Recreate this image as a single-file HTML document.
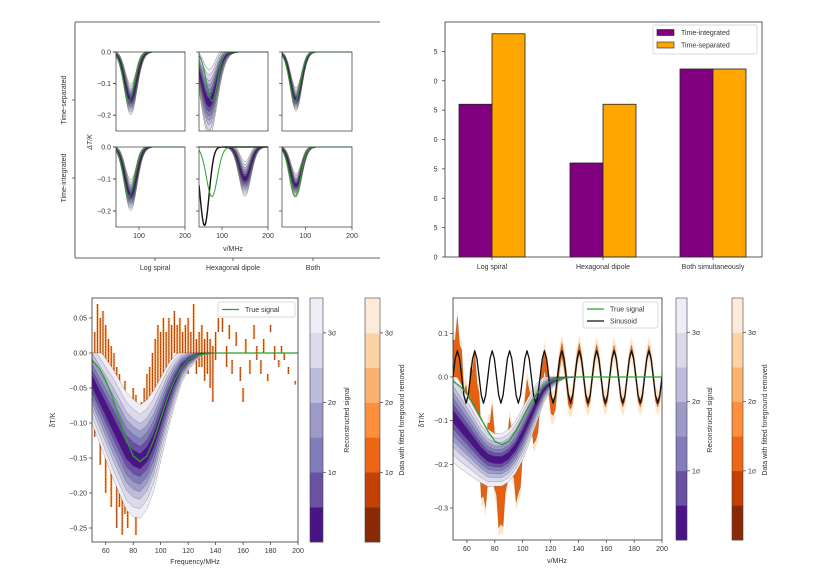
<!DOCTYPE html>
<html><head><meta charset="utf-8">
<style>
html,body{margin:0;padding:0;background:#fff;}
svg{display:block;font-family:"Liberation Sans",sans-serif;}
</style></head>
<body>
<svg id="fig" width="823" height="582" viewBox="0 0 823 582" xmlns="http://www.w3.org/2000/svg">
<defs>
<clipPath id="cpBL"><rect x="92" y="298" width="206" height="244"/></clipPath>
<clipPath id="cpBR"><rect x="453" y="298" width="209" height="242"/></clipPath>
</defs>
<g id="root"></g>
</svg>
<script>
// ---------- data ----------
const fGrid=[50,55,60,65,70,75,80,85,90,95,100,105,110,115,120,125,130,135,140,145,150,155,160,165,170,175,180,185,190,195,200];
const trueSig=[-0.010,-0.021,-0.039,-0.064,-0.094,-0.124,-0.147,-0.155,-0.147,-0.124,-0.094,-0.064,-0.039,-0.021,-0.010,-0.004,-0.002,-0.001,0,0,0,0,0,0,0,0,0,0,0,0,0];
const recMeanA=[-0.04,-0.06,-0.08,-0.10,-0.12,-0.14,-0.15,-0.155,-0.145,-0.125,-0.095,-0.065,-0.04,-0.02,-0.01,-0.004,0,0,0,0,0,0,0,0,0,0,0,0,0,0,0];
const recSigA=[0.02,0.022,0.024,0.026,0.027,0.028,0.028,0.027,0.026,0.024,0.02,0.016,0.012,0.008,0.005,0.003,0.001,0,0,0,0,0,0,0,0,0,0,0,0,0,0];
const recMeanB=[-0.09,-0.11,-0.13,-0.15,-0.17,-0.185,-0.19,-0.19,-0.18,-0.16,-0.13,-0.095,-0.06,-0.03,-0.012,-0.004,-0.001,0,0,0,0,0,0,0,0,0,0,0,0,0,0];
const recSigB=[0.035,0.033,0.03,0.027,0.024,0.022,0.02,0.02,0.02,0.02,0.02,0.018,0.015,0.01,0.006,0.003,0.001,0,0,0,0,0,0,0,0,0,0,0,0,0,0];
const spikeF=[52,54,56,58,60,62,64,66,68,70,72,74,76,78,80,82,84,86,88,90,92,94,96,98,100,102,104,106,108,110,112,114,116,118,120,122,124,126,128,130,132,134,136,138,140,142,145,148,150,152,155,158,160,162,165,168,170,173,175,178,180,183,186,188,190,193,198];
const spikeHi=[0.03,0.07,0.05,0.06,0.04,0.02,0.01,0.0,-0.02,-0.03,-0.05,-0.04,-0.06,-0.07,-0.05,-0.06,-0.08,-0.07,-0.05,-0.03,-0.02,0.0,0.02,0.04,0.03,0.05,0.03,0.05,0.04,0.06,0.04,0.05,0.03,0.04,0.05,0.03,0.07,0.02,0.03,0.04,0.02,0.03,0.02,0.01,0.03,0.05,0.05,0.01,0.04,-0.01,0.03,-0.02,-0.05,0.02,-0.01,0.04,0.01,-0.01,0.02,-0.03,0.04,0.01,-0.01,0.01,0.0,-0.02,-0.04];
const spikeLo=[-0.12,-0.05,-0.16,-0.10,-0.20,-0.15,-0.22,-0.18,-0.25,-0.22,-0.26,-0.23,-0.25,-0.22,-0.20,-0.26,-0.23,-0.20,-0.18,-0.16,-0.14,-0.12,-0.10,-0.08,-0.05,-0.06,-0.03,-0.02,-0.03,0.0,-0.02,-0.01,-0.03,-0.02,-0.03,-0.02,0.0,-0.03,-0.02,-0.02,-0.04,-0.03,-0.05,-0.07,-0.01,0.03,0.03,-0.02,0.02,-0.03,0.01,-0.04,-0.07,0.0,-0.03,0.02,-0.01,-0.03,0.0,-0.04,0.03,-0.01,-0.02,0.0,-0.01,-0.03,-0.045];
const sinF0=50, sinStep=1.5625;
const sinusoid=[0,0.042,0.06,0.042,0,-0.042,-0.06,-0.042,
0,0.042,0.06,0.042,0,-0.042,-0.06,-0.042,
0,0.042,0.06,0.042,0,-0.042,-0.06,-0.042,
0,0.042,0.06,0.042,0,-0.042,-0.06,-0.042,
0,0.042,0.06,0.042,0,-0.042,-0.06,-0.042,
0,0.042,0.06,0.042,0,-0.042,-0.06,-0.042,
0,0.042,0.06,0.042,0,-0.042,-0.06,-0.042,
0,0.042,0.06,0.042,0,-0.042,-0.06,-0.042,
0,0.042,0.06,0.042,0,-0.042,-0.06,-0.042,
0,0.042,0.06,0.042,0,-0.042,-0.06,-0.042,
0,0.042,0.06,0.042,0,-0.042,-0.06,-0.042,
0,0.042,0.06,0.042,0,-0.042,-0.06,-0.042,0];
const noiseB=[0.1,0.1,0.1,0.1,0.09,0.08,0.08,0.07,0.06,0.06,0.05,0.04,0.03,0.03,0.025,0.02,0.02,0.015,0.015,0.012,0.012,0.012,0.01,0.01,0.01,0.01,0.01,0.01,0.01,0.01,0.01];
const barCats=["Log spiral","Hexagonal dipole","Both simultaneously"];
const barIntegrated=[26,16,32];
const barSeparated=[38,26,32];
const barTicks=[0,5,10,15,20,25,30,35];
// small panels
const panelCenter=[[82,72,80],[82,150,80]];
const panelDepth=[[0.15,0.16,0.15],[0.15,0.10,0.12]];
const panelWidth=[[13,16,12],[13,12,12]];
const panelSpread=[[0.016,0.035,0.012],[0.016,0.018,0.012]];
const smallTrue=[78,0.155,12];
const hexBlack=[62,0.245,10];
const bandK=[3,2.5,2,1.6,1.2,0.8,0.4];
const purples=['#efedf5','#dadaeb','#bcbddc','#9e9ac8','#807dba','#6a51a3','#4a1486'];
const oranges=['#8a2a04','#c44103','#ec6615','#fd8f3d','#fdb170','#fdd3a6','#feeadb'];

// ---------- helpers ----------
const NS="http://www.w3.org/2000/svg";
const root=document.getElementById('root');
function el(tag,attrs,parent){const e=document.createElementNS(NS,tag);for(const k in attrs)e.setAttribute(k,attrs[k]);(parent||root).appendChild(e);return e;}
function txt(s,attrs,parent){const e=el('text',attrs,parent);e.textContent=s;return e;}
function lin(d0,d1,r0,r1){return v=>r0+(v-d0)/(d1-d0)*(r1-r0);}
function interp(xs,ys,x){if(x<=xs[0])return ys[0];for(let i=1;i<xs.length;i++){if(x<=xs[i]){const t=(x-xs[i-1])/(xs[i]-xs[i-1]);return ys[i-1]+t*(ys[i]-ys[i-1]);}}return ys[ys.length-1];}
function pathFrom(xs,ys,sx,sy){return xs.map((x,i)=>(i?'L':'M')+sx(x).toFixed(2)+','+sy(ys[i]).toFixed(2)).join('');}
function bandPath(xs,lo,hi,sx,sy){let d=pathFrom(xs,hi,sx,sy);for(let i=xs.length-1;i>=0;i--)d+='L'+sx(xs[i]).toFixed(2)+','+sy(lo[i]).toFixed(2);return d+'Z';}
function fine(a,b,n){const r=[];for(let i=0;i<=n;i++)r.push(a+(b-a)*i/n);return r;}

function drawBands(g,xs,mean,sig,sx,sy,name){
  bandK.forEach((k,j)=>{
    const lo=xs.map(x=>Math.min(0,interp(fGrid,mean,x)-k*interp(fGrid,sig,x)));
    const hi=xs.map(x=>Math.min(0,interp(fGrid,mean,x)+k*interp(fGrid,sig,x)));
    const p=el('path',{d:bandPath(xs,lo,hi,sx,sy),fill:purples[j],stroke:'#222','stroke-width':0.35,'stroke-opacity':0.55},g);
    
    
  });
}
function yTicks(g,vals,labels,sy,x0){vals.forEach((v,i)=>{el('line',{x1:x0-3,x2:x0,y1:sy(v),y2:sy(v),stroke:'#333','stroke-width':0.7},g);txt(labels[i],{x:x0-5,y:sy(v)+2.5,'font-size':7,'text-anchor':'end',fill:'#333'},g);});}
function xTicks(g,vals,sx,y0,show){vals.forEach(v=>{el('line',{x1:sx(v),x2:sx(v),y1:y0,y2:y0+3,stroke:'#333','stroke-width':0.7},g);if(show!==false)txt(String(v),{x:sx(v),y:y0+11,'font-size':7,'text-anchor':'middle',fill:'#333'},g);});}
function colorbar(x,y0,y1,w,cols,name){
  const g=el('g',{});  
  const h=(y1-y0)/7;
  for(let i=0;i<7;i++){el('rect',{x:x,y:y1-(i+1)*h,width:w,height:h+0.3,fill:cols[i]},g);}
  el('rect',{x:x,y:y0,width:w,height:y1-y0,fill:'none',stroke:'#444','stroke-width':0.6},g);
  [['1σ',2],['2σ',4],['3σ',6]].forEach(([l,k])=>{const yy=y1-k*h;el('line',{x1:x+w,x2:x+w+3,y1:yy,y2:yy,stroke:'#333','stroke-width':0.7},g);txt(l,{x:x+w+5,y:yy+2.5,'font-size':7,fill:'#333'},g);});
  return g;
}
function vlabel(s,x,y,name,italic){const t=txt(s,{x:x,y:y,'font-size':7,'text-anchor':'middle',fill:'#333',transform:'rotate(-90 '+x+' '+y+')','font-style':italic?'italic':'normal'});return t;}

// ---------- top-left grid ----------
(function(){
  const g=el('g',{});  
  el('line',{x1:75,y1:22,x2:75,y2:258,stroke:'#333','stroke-width':0.8},g);
  el('line',{x1:75,y1:22,x2:380,y2:22,stroke:'#333','stroke-width':0.8},g);
  el('line',{x1:75,y1:258,x2:380,y2:258,stroke:'#333','stroke-width':0.8},g);
  [100,178].forEach(y=>el('line',{x1:72,x2:75,y1:y,y2:y,stroke:'#333','stroke-width':0.7},g));
  [155,233,313].forEach(x=>el('line',{x1:x,x2:x,y1:258,y2:261,stroke:'#333','stroke-width':0.7},g));
  vlabel('Time-separated',66,100,'row-label-separated');
  vlabel('Time-integrated',66,178,'row-label-integrated');
  vlabel('ΔT/K',92,142,'small-y-axis-title',true);
  const xl=txt('ν/MHz',{x:233,y:251,'font-size':7,'text-anchor':'middle',fill:'#333'},g);
  ['Log spiral','Hexagonal dipole','Both'].forEach((s,i)=>{const t=txt(s,{x:[155,233,313][i],y:270,'font-size':7,'text-anchor':'middle',fill:'#333'},g);});
  const cols=[[116,185],[199,268],[282,352]], rows=[[52,131],[147,227]];
  const xs=fine(50,200,120);
  for(let r=0;r<2;r++)for(let c=0;c<3;c++){
    const [x0,x1]=cols[c],[y0,y1]=rows[r];
    const sx=lin(50,200,x0,x1), sy=lin(0,-0.25,y0,y1);
    const pg=el('g',{},g);  
    const cp=el('clipPath',{id:'cp'+r+c},pg); el('rect',{x:x0,y:y0-1,width:x1-x0,height:y1-y0+1},cp);
    const inner=el('g',{'clip-path':'url(#cp'+r+c+')'},pg);
    const C=panelCenter[r][c],D=panelDepth[r][c],W=panelWidth[r][c],S=panelSpread[r][c];
    bandK.forEach((k,j)=>{
      const lo=xs.map(x=>Math.min(0,-D*Math.exp(-((x-C)**2)/(2*W*W))-k*S*Math.exp(-((x-C)**2)/(2*(W*1.3)**2))));
      const hi=xs.map(x=>Math.min(0,-D*Math.exp(-((x-C)**2)/(2*W*W))+k*S*Math.exp(-((x-C)**2)/(2*(W*1.3)**2))));
      el('path',{d:bandPath(xs,lo,hi,sx,sy),fill:purples[j],stroke:'#222','stroke-width':0.4,'stroke-opacity':0.7},inner);
    });
    if(r===1&&c===1){
      const by=xs.map(x=>-hexBlack[1]*Math.exp(-((x-hexBlack[0])**2)/(2*hexBlack[2]**2)));
      el('path',{d:pathFrom(xs,by,sx,sy),fill:'none',stroke:'#111','stroke-width':1.4},inner);
    }
    const ty=xs.map(x=>-smallTrue[1]*Math.exp(-((x-smallTrue[0])**2)/(2*smallTrue[2]**2)));
    const tp=el('path',{d:pathFrom(xs,ty,sx,sy),fill:'none',stroke:'#2ca02c','stroke-width':1},inner);
     
    el('rect',{x:x0,y:y0,width:x1-x0,height:y1-y0,fill:'none',stroke:'#333','stroke-width':0.7},pg);
    [0,-0.1,-0.2].forEach(v=>el('line',{x1:x0-3,x2:x0,y1:sy(v),y2:sy(v),stroke:'#333','stroke-width':0.7},pg));
    if(c===0)yTicks(pg,[0,-0.1,-0.2],['0.0','−0.1','−0.2'],sy,x0);
    if(r===1)xTicks(pg,[100,200],sx,y1);
  }
})();

// ---------- top-right bar chart ----------
(function(){
  const g=el('g',{});  
  const X0=445,X1=762,Y0=22,Y1=257;
  const sy=lin(0,40,Y1,Y0);
  const centers=[492,603,713], bw=33;
  barCats.forEach((cat,i)=>{
    const r1=el('rect',{x:centers[i]-bw,y:sy(barIntegrated[i]),width:bw,height:Y1-sy(barIntegrated[i]),fill:'#800080',stroke:'#222','stroke-width':0.8},g);
     
    const r2=el('rect',{x:centers[i],y:sy(barSeparated[i]),width:bw,height:Y1-sy(barSeparated[i]),fill:'#ffa500',stroke:'#222','stroke-width':0.8},g);
     
    el('line',{x1:centers[i],x2:centers[i],y1:Y1,y2:Y1+3,stroke:'#333','stroke-width':0.7},g);
    const t=txt(cat,{x:centers[i],y:Y1+12,'font-size':7,'text-anchor':'middle',fill:'#333'},g);
     
  });
  el('rect',{x:X0,y:Y0,width:X1-X0,height:Y1-Y0,fill:'none',stroke:'#333','stroke-width':0.8},g);
  // labels are cut off at the figure edge in the original: only the last digit shows
  barTicks.forEach(v=>{el('line',{x1:X0-3,x2:X0,y1:sy(v),y2:sy(v),stroke:'#333','stroke-width':0.7},g);txt(String(v).slice(-1),{x:X0-7.5,y:sy(v)+2.5,'font-size':7,'text-anchor':'end',fill:'#333'},g);});
  const leg=el('g',{},g);  
  el('rect',{x:653,y:25,width:104,height:29,fill:'#fff',stroke:'#ccc','stroke-width':0.7,rx:2},leg);
  el('rect',{x:657,y:29.5,width:17,height:6,fill:'#800080',stroke:'#222','stroke-width':0.6},leg);
  txt('Time-integrated',{x:681,y:35,'font-size':7,fill:'#333'},leg);
  el('rect',{x:657,y:42,width:17,height:6,fill:'#ffa500',stroke:'#222','stroke-width':0.6},leg);
  txt('Time-separated',{x:681,y:47.5,'font-size':7,fill:'#333'},leg);
})();

// ---------- bottom-left ----------
(function(){
  const g=el('g',{});  
  const X0=92,X1=298,Y0=298,Y1=542;
  const sx=lin(50,200,X0,X1), sy=lin(0,-0.25,353,528);
  const inner=el('g',{'clip-path':'url(#cpBL)'},g);
  spikeF.forEach((f,i)=>{
    el('line',{x1:sx(f),x2:sx(f),y1:sy(spikeHi[i]),y2:sy(spikeLo[i]),stroke:'#fdd3a6','stroke-width':2.6},inner);
  });
  spikeF.forEach((f,i)=>{
    const s=el('line',{x1:sx(f),x2:sx(f),y1:sy(spikeHi[i]),y2:sy(spikeLo[i]),stroke:'#e0560e','stroke-width':1.2},inner);
     
    el('line',{x1:sx(f),x2:sx(f),y1:sy(spikeHi[i]),y2:sy(spikeLo[i]),stroke:'#222','stroke-width':0.4,'stroke-dasharray':'1.5,1.5'},inner);
  });
  const xs=fine(50,200,150);
  drawBands(inner,xs,recMeanA,recSigA,sx,sy,'recon-left');
  const tp=el('path',{d:pathFrom(fGrid,trueSig,sx,sy),fill:'none',stroke:'#2ca02c','stroke-width':1.3},inner);
   
  el('rect',{x:X0,y:Y0,width:X1-X0,height:Y1-Y0,fill:'none',stroke:'#333','stroke-width':0.8},g);
  yTicks(g,[0.05,0,-0.05,-0.1,-0.15,-0.2,-0.25],['0.05','0.00','−0.05','−0.10','−0.15','−0.20','−0.25'],sy,X0);
  xTicks(g,[60,80,100,120,140,160,180,200],sx,Y1);
  const xl=txt('Frequency/MHz',{x:195,y:564,'font-size':7,'text-anchor':'middle',fill:'#333'},g);
  vlabel('δT/K',55,420,'y-axis-title');
  const leg=el('g',{},g);  
  el('rect',{x:218,y:302,width:77,height:15,fill:'#fff',stroke:'#ccc','stroke-width':0.7,rx:2},leg);
  el('line',{x1:222,x2:239,y1:309.5,y2:309.5,stroke:'#2ca02c','stroke-width':1.3},leg);
  txt('True signal',{x:245,y:312,'font-size':7,fill:'#333'},leg);
  colorbar(310,298,542,13,purples.slice().reverse(),'colorbar-reconstructed-left');
  vlabel('Reconstructed signal',349,420,'colorbar-label-reconstructed');
  colorbar(365,298,542,15,oranges,'colorbar-data-left');
  vlabel('Data with fitted foreground removed',404,420,'colorbar-label-data');
})();

// ---------- bottom-right ----------
(function(){
  const g=el('g',{});  
  const X0=453,X1=662,Y0=298,Y1=540;
  const sx=lin(50,200,X0,X1), sy=lin(0,-0.3,377,508);
  const inner=el('g',{'clip-path':'url(#cpBR)'},g);
  const sf=sinusoid.map((v,i)=>sinF0+i*sinStep);
  const center=sf.map((f,i)=>sinusoid[i]*1.05+interp(fGrid,trueSig,f)*1.5);
  const hiO=sf.map((f,i)=>center[i]+interp(fGrid,noiseB,f)*(i%2?0.6:1));
  const loO=sf.map((f,i)=>center[i]-interp(fGrid,noiseB,f)*(i%2?1:0.6));
  const hiL=sf.map((f,i)=>hiO[i]+0.02), loL=sf.map((f,i)=>loO[i]-0.02);
  el('path',{d:bandPath(sf,loL,hiL,sx,sy),fill:'#fdd3a6','fill-opacity':0.6},inner);
  const op=el('path',{d:bandPath(sf,loO,hiO,sx,sy),fill:'#e6600f',stroke:'#333','stroke-width':0.3,'stroke-opacity':0.6},inner);
   
  const xs=fine(50,200,150);
  drawBands(inner,xs,recMeanB,recSigB,sx,sy,'recon-right');
  const sp=el('path',{d:pathFrom(sf,sinusoid,sx,sy),fill:'none',stroke:'#111','stroke-width':1.3,'stroke-linejoin':'round'},inner);
   
  const tp=el('path',{d:pathFrom(fGrid,trueSig,sx,sy),fill:'none',stroke:'#2ca02c','stroke-width':1.2},inner);
   
  el('rect',{x:X0,y:Y0,width:X1-X0,height:Y1-Y0,fill:'none',stroke:'#333','stroke-width':0.8},g);
  yTicks(g,[0.1,0,-0.1,-0.2,-0.3],['0.1','0.0','−0.1','−0.2','−0.3'],sy,X0);
  xTicks(g,[60,80,100,120,140,160,180,200],sx,Y1);
  const xl=txt('ν/MHz',{x:557,y:563,'font-size':7,'text-anchor':'middle',fill:'#333'},g);
  vlabel('δT/K',424,420,'y-axis-title');
  const leg=el('g',{},g);  
  el('rect',{x:583,y:302,width:75,height:26,fill:'#fff',stroke:'#ccc','stroke-width':0.7,rx:2},leg);
  el('line',{x1:587,x2:604,y1:309,y2:309,stroke:'#2ca02c','stroke-width':1.3},leg);
  txt('True signal',{x:610,y:311.5,'font-size':7,fill:'#333'},leg);
  el('line',{x1:587,x2:604,y1:321,y2:321,stroke:'#111','stroke-width':1.3},leg);
  txt('Sinusoid',{x:610,y:323.5,'font-size':7,fill:'#333'},leg);
  colorbar(676,298,540,11,purples.slice().reverse(),'colorbar-reconstructed-right');
  vlabel('Reconstructed signal',712,420,'colorbar-label-reconstructed');
  colorbar(732,298,540,11,oranges,'colorbar-data-right');
  vlabel('Data with fitted foreground removed',767,420,'colorbar-label-data');
})();
</script>
</body></html>
